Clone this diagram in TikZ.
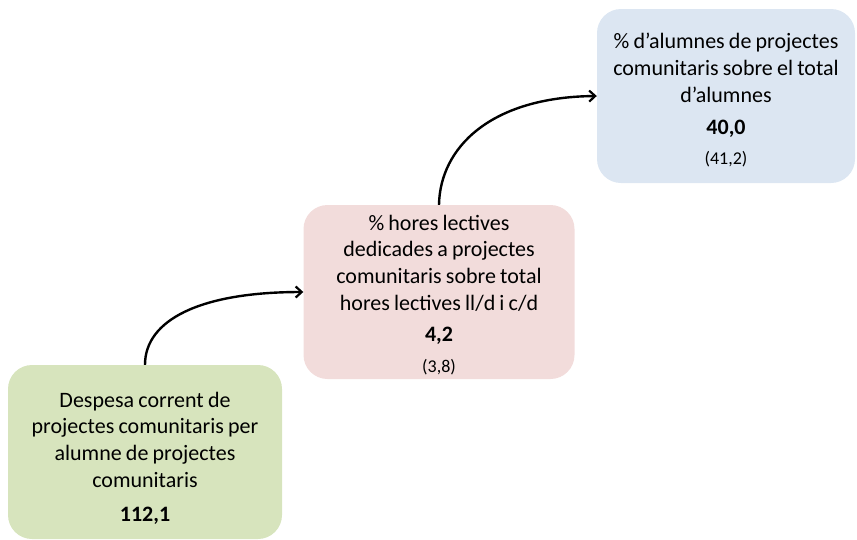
\documentclass[tikz,border=0pt]{standalone}
\usepackage{fontspec}
\setmainfont{Carlito}
\usetikzlibrary{arrows.meta}
\definecolor{boxgreen}{HTML}{D7E4BD}
\definecolor{boxpink}{HTML}{F2DCDB}
\definecolor{boxblue}{HTML}{DCE6F2}
% text font of the boxes, with slightly tighter word spaces
\newcommand{\kpifont}{\fontsize{22}{26.7}\selectfont\spaceskip=0.19em\relax}
\tikzset{
  kpibox/.style={rounded corners=24pt, inner sep=0pt, minimum height=174pt},
  kpitext/.style={inner sep=0pt, align=center, font=\kpifont},
  flow/.style={line width=2.4pt, -{Straight Barb[length=6pt,width=11pt,line width=2.2pt]}},
}
\newcommand{\valuesmall}[1]{{\fontsize{18}{21}\selectfont #1}}
\begin{document}
\begin{tikzpicture}[x=1pt,y=-1pt]
\useasboundingbox (0,0) rectangle (857,539);
% boxes
\node[kpibox, fill=boxgreen, minimum width=274pt] (despesa) at (145,452) {};
\node[kpibox, fill=boxpink, minimum width=271pt] (hores) at (439,292) {};
\node[kpibox, fill=boxblue, minimum width=258pt] (alumnes) at (726,96) {};
% box texts
\node[kpitext] (despesatxt) at (145,458)
  {Despesa corrent de\\ projectes comunitaris per\\ alumne de projectes\\ comunitaris\\[7pt] \textbf{112,1}};
\node[kpitext] (horestxt) at (439,295)
  {\% hores lectives\\ dedicades a projectes\\ comunitaris sobre total\\ hores lectives ll/d i c/d\\[5pt] \textbf{4,2}\\[4pt] \valuesmall{(3,8)}};
\node[kpitext] (alumnestxt) at (726,100)
  {\% d’alumnes de projectes\\ comunitaris sobre el total\\ d’alumnes\\[6pt] \textbf{40,0}\\[3pt] \valuesmall{(41,2)}};
% connectors
\draw[flow] (despesa.north) .. controls (145,320) and (200,292) .. (hores.west);
\draw[flow] (hores.north) .. controls (440,148) and (490,97) .. (alumnes.west);
\end{tikzpicture}
\end{document}
